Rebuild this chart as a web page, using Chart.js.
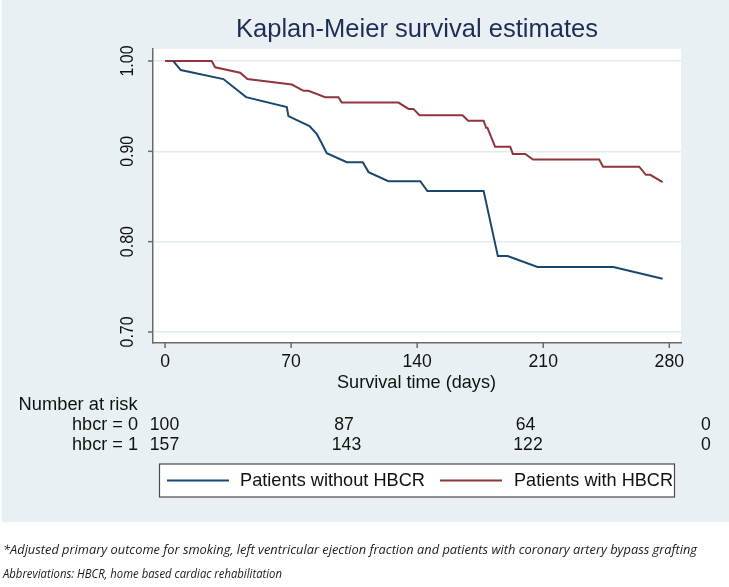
<!DOCTYPE html>
<html>
<head>
<meta charset="utf-8">
<script src="https://cdn.jsdelivr.net/npm/chart.js@4"></script>
<style>
  html, body { margin: 0; padding: 0; background: #fff; }
  #chart { display: block; }
</style>
</head>
<body>
<canvas id="chart" width="729" height="587" style="width:729px;height:587px"></canvas>
<script>
// survival curves (days, survival)
const noHbcrDays = [4.6, 8.7, 32.4, 45, 67.6, 68.5, 80.2, 84.3, 87, 89.8, 100.9, 109.8, 113, 124, 141.7, 145.7, 176.9, 184.8, 190.2, 206.8, 249, 276.3]
const noHbcrSurv = [1.0, 0.99, 0.98, 0.96, 0.949, 0.939, 0.928, 0.919, 0.909, 0.898, 0.888, 0.888, 0.877, 0.867, 0.867, 0.856, 0.856, 0.784, 0.784, 0.772, 0.772, 0.759]

const hbcrDays = [0, 25.9, 27.8, 41.7, 45.7, 70.4, 76.9, 79.6, 88.9, 96.3, 98.1, 129.6, 135.2, 137.9, 141.3, 165.2, 168.3, 176.9, 178.3, 179, 183.3, 191.7, 193.1, 200, 204.3, 241.1, 243.2, 263.3, 267, 269.4, 276.3]
const hbcrSurv = [1.0, 1.0, 0.993, 0.987, 0.98, 0.974, 0.967, 0.967, 0.96, 0.96, 0.954, 0.954, 0.947, 0.947, 0.94, 0.94, 0.934, 0.934, 0.926, 0.926, 0.905, 0.905, 0.897, 0.897, 0.891, 0.891, 0.883, 0.883, 0.874, 0.874, 0.866]

const xTicks = [0, 70, 140, 210, 280]
const yTicks = [0.70, 0.80, 0.90, 1.00]

const riskLabels = ['hbcr = 0', 'hbcr = 1']
const riskNoHbcr = [100, 87, 64, 0]
const riskHbcr = [157, 143, 122, 0]

const seriesNames = ['Patients without HBCR', 'Patients with HBCR']

const BLUE = '#1a476f'
const RED = '#90353b'
const AXIS = '#6a6a6a'
const SANS = '"Liberation Sans", Arial, Helvetica, sans-serif'

const toPoints = (xs, ys) => xs.map((x, i) => ({ x: x, y: ys[i] }))

// draw text squeezed/stretched to a given width
const fitText = (ctx, text, x, y, width, align) => {
  const w = ctx.measureText(text).width
  const sx = width ? width / w : 1
  let left = x
  if (align == 'center') left = x - w * sx / 2
  if (align == 'right') left = x - w * sx
  ctx.save()
  ctx.translate(left, y)
  ctx.scale(sx, 1)
  ctx.textAlign = 'left'
  ctx.fillText(text, 0, 0)
  ctx.restore()
}

const decor = {
  id: 'decor',
  beforeDraw(chart) {
    const ctx = chart.ctx
    const a = chart.chartArea
    ctx.save()
    ctx.fillStyle = '#ffffff'
    ctx.fillRect(0, 0, chart.width, chart.height)
    ctx.fillStyle = '#e9f0f3'
    ctx.fillRect(2, 0, chart.width - 2, 522)
    ctx.fillStyle = '#ffffff'
    ctx.fillRect(a.left, a.top, a.right - a.left, a.bottom - a.top)
    ctx.restore()
  },
  afterDraw(chart) {
    const ctx = chart.ctx
    const xs = chart.scales.x
    const ys = chart.scales.y
    const a = chart.chartArea
    ctx.save()
    ctx.textBaseline = 'middle'

    // tick marks
    ctx.strokeStyle = AXIS
    ctx.lineWidth = 1.5
    for (const v of yTicks) {
      const py = ys.getPixelForValue(v)
      ctx.beginPath(); ctx.moveTo(a.left - 5, py); ctx.lineTo(a.left, py); ctx.stroke()
    }
    for (const v of xTicks) {
      const px = xs.getPixelForValue(v)
      ctx.beginPath(); ctx.moveTo(px, a.bottom); ctx.lineTo(px, a.bottom + 5); ctx.stroke()
    }

    // tick labels
    ctx.fillStyle = '#111'
    ctx.font = '17.5px ' + SANS
    for (const v of yTicks) {
      const py = ys.getPixelForValue(v)
      ctx.save()
      ctx.translate(128.5, py)
      ctx.rotate(-Math.PI / 2)
      fitText(ctx, v.toFixed(2), 0, 0, 31, 'center')
      ctx.restore()
    }
    for (const v of xTicks) {
      const px = xs.getPixelForValue(v)
      fitText(ctx, String(v), px, 362, String(v).length * 9.8, 'center')
    }

    // axis title
    ctx.font = '18.5px ' + SANS
    fitText(ctx, 'Survival time (days)', 416.5, 383, 159, 'center')

    // title
    ctx.fillStyle = '#1f2d56'
    ctx.font = '25px ' + SANS
    fitText(ctx, 'Kaplan-Meier survival estimates', 236, 30.5, 362, 'left')

    // number at risk table
    ctx.fillStyle = '#111'
    ctx.font = '18px ' + SANS
    fitText(ctx, 'Number at risk', 18.6, 405, 119, 'left')
    fitText(ctx, riskLabels[0], 138, 425, 66, 'right')
    fitText(ctx, riskLabels[1], 138, 445, 66, 'right')
    const colX0 = [164.5, 344, 525.6, 706]
    const colX1 = [164.5, 346.5, 528, 706]
    riskNoHbcr.forEach((n, i) => fitText(ctx, String(n), colX0[i], 425, String(n).length * 9.8, 'center'))
    riskHbcr.forEach((n, i) => fitText(ctx, String(n), colX1[i], 445, String(n).length * 9.8, 'center'))

    // legend
    ctx.fillStyle = '#ffffff'
    ctx.fillRect(159.5, 464, 515, 33)
    ctx.strokeStyle = '#4a4a4a'
    ctx.lineWidth = 1.2
    ctx.strokeRect(159.5, 464, 515, 33)
    ctx.lineWidth = 2
    ctx.strokeStyle = BLUE
    ctx.beginPath(); ctx.moveTo(167, 480.5); ctx.lineTo(229, 480.5); ctx.stroke()
    ctx.strokeStyle = RED
    ctx.beginPath(); ctx.moveTo(440, 480.5); ctx.lineTo(502, 480.5); ctx.stroke()
    ctx.fillStyle = '#111'
    ctx.font = '18.5px ' + SANS
    fitText(ctx, seriesNames[0], 240, 481, 185, 'left')
    fitText(ctx, seriesNames[1], 514, 481, 159, 'left')

    // footnotes
    ctx.fillStyle = '#1a1a1a'
    ctx.font = 'italic 12.5px "Open Sans", Lato, sans-serif'
    fitText(ctx, '*Adjusted primary outcome for smoking, left ventricular ejection fraction and patients with coronary artery bypass grafting', 3, 550, 694, 'left')
    fitText(ctx, 'Abbreviations: HBCR, home based cardiac rehabilitation', 3, 574, 279, 'left')
    ctx.restore()
  }
}

const config = {
  type: 'line',
  data: {
    datasets: [{
      label: seriesNames[0],
      data: toPoints(noHbcrDays, noHbcrSurv),
      borderColor: BLUE,
      borderWidth: 2,
      pointRadius: 0,
      tension: 0,
      fill: false
    }, {
      label: seriesNames[1],
      data: toPoints(hbcrDays, hbcrSurv),
      borderColor: RED,
      borderWidth: 2,
      pointRadius: 0,
      tension: 0,
      fill: false
    }]
  },
  options: {
    responsive: false,
    animation: false,
    devicePixelRatio: 1,
    layout: { padding: { left: 153, top: 49, right: 48, bottom: 244 } },
    plugins: {
      legend: { display: false },
      tooltip: { enabled: false },
      title: { display: false }
    },
    scales: {
      x: {
        type: 'linear',
        min: -6.7,
        max: 286.5,
        grid: { display: false },
        ticks: { display: false },
        border: { display: true, color: AXIS, width: 1.5 },
        afterFit: (s) => { s.height = 0 }
      },
      y: {
        type: 'linear',
        min: 0.6878,
        max: 1.0133,
        afterBuildTicks: (s) => { s.ticks = yTicks.map(v => ({ value: v })) },
        grid: { color: '#e3ebee', lineWidth: 1.5, drawTicks: false },
        ticks: { display: false },
        border: { display: true, color: AXIS, width: 1.5 },
        afterFit: (s) => { s.width = 0 }
      }
    }
  },
  plugins: [decor]
}

const mychart = new Chart(document.getElementById('chart').getContext('2d'), config)
</script>
</body>
</html>
